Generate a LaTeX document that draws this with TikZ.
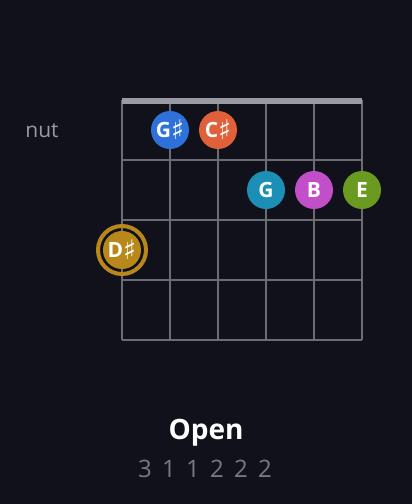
\documentclass[tikz,border=0pt]{standalone}
\usepackage{fontspec}
\setmainfont{Open Sans}
\newfontfamily\symfont{DejaVu Sans ExtraLight}
\definecolor{bg}{HTML}{10111A}
\definecolor{gridc}{HTML}{6C6C74}
\definecolor{nutc}{HTML}{9A9AA2}
\definecolor{txtgray}{HTML}{9A9AA2}
\definecolor{numgray}{HTML}{7A7A82}
\definecolor{cGs}{HTML}{2E72D9}
\definecolor{cCs}{HTML}{E0603A}
\definecolor{cG}{HTML}{1C8FB6}
\definecolor{cB}{HTML}{C24FC9}
\definecolor{cE}{HTML}{6A9A20}
\definecolor{cDs}{HTML}{B8891A}
\newcommand{\shp}{\smash{\raisebox{-1.5pt}{\symfont\fontsize{27}{27}\selectfont\char"266F}}}
\tikzset{
  gridline/.style={draw=gridc, line width=1.5pt},
  notedot/.style={circle, minimum size=38pt, inner sep=0pt, text=white,
    font=\fontsize{21}{21}\selectfont\bfseries},
}
\begin{document}
\begin{tikzpicture}[x=1pt,y=1pt]
\fill[bg] (0,0) rectangle (412,-504);
\useasboundingbox (0,0) rectangle (412,-504);
% strings
\foreach \x in {122,170,218,266,314,362} \draw[gridline] (\x,-100) -- (\x,-340);
% frets
\foreach \y in {160,220,280,340} \draw[gridline] (122,-\y) -- (362,-\y);
% nut
\fill[nutc] (122,-98) rectangle (362,-104);
\node[text=txtgray, font=\fontsize{21}{21}\selectfont, anchor=base] (nut) at (42,-137) {nut};
% dots
\node[notedot, fill=cGs] (gs) at (170,-130) {G\shp};
\node[notedot, fill=cCs] (cs) at (218,-130) {C\shp};
\node[notedot, fill=cG] (g) at (266,-190) {G};
\node[notedot, fill=cB] (b) at (314,-190) {B};
\node[notedot, fill=cE] (e) at (362,-190) {E};
\draw[cDs, line width=4pt] (122,-250) circle (24);
\node[notedot, fill=cDs] (ds) at (122,-250) {D\shp};
% labels
\node[text=white, font=\fontsize{28}{28}\selectfont\bfseries, anchor=base] (title) at (206,-439) {Open};
\node[text=numgray, font=\fontsize{24}{24}\selectfont, anchor=base] (nums) at (205,-477) {\spaceskip=10.3pt 3 1 1 2 2 2};
\end{tikzpicture}
\end{document}
